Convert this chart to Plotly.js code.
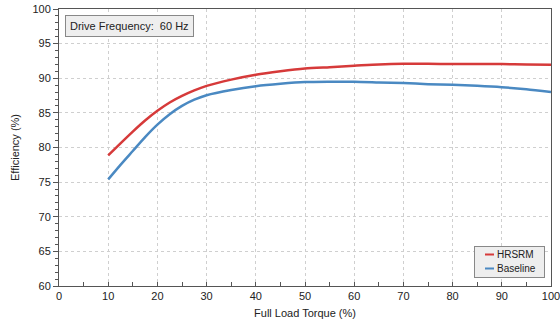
<!DOCTYPE html>
<html>
<head>
<meta charset="utf-8">
<script src="https://cdn.plot.ly/plotly-3.0.1.min.js"></script>
<style>html,body{margin:0;padding:0;background:#fff;}#chart{width:560px;height:326px;}</style>
</head>
<body>
<div id="chart"></div>
<script>
const torque   = [10, 12.5, 15, 17.5, 20, 22.5, 25, 27.5, 30, 35, 40, 45, 50, 55, 60, 65, 70, 75, 80, 85, 90, 95, 100];
const hrsrm    = [78.85, 80.6, 82.3, 83.9, 85.3, 86.5, 87.45, 88.25, 88.9, 89.8, 90.5, 91.0, 91.4, 91.6, 91.8, 92.0, 92.1, 92.1, 92.05, 92.05, 92.05, 92.0, 91.95];
const baseline = [75.4, 77.5, 79.5, 81.5, 83.3, 84.8, 86.0, 86.9, 87.55, 88.3, 88.85, 89.2, 89.45, 89.5, 89.5, 89.4, 89.3, 89.15, 89.05, 88.9, 88.7, 88.4, 88.0];
const seriesNames = ["HRSRM", "Baseline"];
const xTitle = "Full Load Torque (%)";
const yTitle = "Efficiency (%)";
const note = "Drive Frequency:  60 Hz";

const font = "Liberation Sans, Arial, Helvetica, sans-serif";
const traces = [
  {x: torque, y: hrsrm, name: seriesNames[0], mode: "lines",
   line: {color: "#d63a3a", width: 2.5, shape: "spline", smoothing: 0.7}},
  {x: torque, y: baseline, name: seriesNames[1], mode: "lines",
   line: {color: "#4a89c2", width: 2.5, shape: "spline", smoothing: 0.7}}
];
const axisCommon = {
  showline: true, linecolor: "#555", linewidth: 1, mirror: true,
  showgrid: true, gridcolor: "#cfcfcf", griddash: "dot", gridwidth: 1,
  zeroline: false, tickfont: {family: font, size: 11, color: "#222"},
  tickcolor: "#555", ticklen: 5, ticklabeloverflow: "allow"
};
const layout = {
  width: 560, height: 326,
  margin: {l: 59, r: 9, t: 9, b: 40},
  paper_bgcolor: "#fff", plot_bgcolor: "#fff",
  font: {family: font, size: 11, color: "#222"},
  showlegend: true,
  legend: {x: 0.99, y: 0.03, xanchor: "right", yanchor: "bottom",
    bgcolor: "#eeeeee", bordercolor: "#888", borderwidth: 1,
    font: {family: font, size: 10, color: "#222"},
    tracegroupgap: 0, itemwidth: 30},
  xaxis: Object.assign({}, axisCommon, {
    range: [0, 100], dtick: 10, ticks: "inside", ticklen: 4,
    minor: {dtick: 5, ticks: "inside", ticklen: 4, tickcolor: "#555", showgrid: false},
    title: {text: xTitle, font: {family: font, size: 11, color: "#222"}, standoff: 8}
  }),
  yaxis: Object.assign({}, axisCommon, {
    range: [60, 100], dtick: 5, ticks: "outside", ticklen: 5,
    minor: {dtick: 1, ticks: "outside", ticklen: 3, tickcolor: "#555", showgrid: false},
    title: {text: yTitle, font: {family: font, size: 11, color: "#222"}, standoff: 10}
  }),
  annotations: [{
    xref: "paper", yref: "paper", x: 0.012, y: 0.98, xanchor: "left", yanchor: "top",
    text: note, showarrow: false, font: {family: font, size: 11, color: "#222"},
    bgcolor: "#eeeeee", bordercolor: "#888", borderwidth: 1, borderpad: 4
  }]
};
Plotly.newPlot("chart", traces, layout, {staticPlot: true, displayModeBar: false}).then(function () {
  // compact legend styling (short sample lines, tight spacing)
  const leg = document.querySelector("#chart .legend");
  if (!leg) return;
  const items = leg.querySelectorAll("g.traces");
  const lineStart = 11, lineLen = 9, textX = 23, rowGap = 14, firstY = 8.5;
  let maxW = 0;
  items.forEach(function (g, i) {
    g.setAttribute("transform", "translate(0," + (firstY + i * rowGap) + ")");
    g.querySelectorAll("path.js-line").forEach(function (p) {
      p.setAttribute("d", "M" + lineStart + ",0h" + lineLen);
      p.style.strokeWidth = "2px";
    });
    const t = g.querySelector("text.legendtext");
    if (t) {
      t.setAttribute("x", textX);
      maxW = Math.max(maxW, t.getComputedTextLength());
    }
  });
  const W = Math.round(textX + maxW + 9);
  const H = Math.round(firstY * 2 + rowGap * (items.length - 1));
  const bg = leg.querySelector("rect.bg");
  if (bg) { bg.setAttribute("width", W); bg.setAttribute("height", H); bg.setAttribute("x", 0.5); bg.setAttribute("y", 0.5); }
  const right = 544, bottom = 277;
  leg.setAttribute("transform", "translate(" + (right - W) + "," + (bottom - H) + ")");
});
</script>
</body>
</html>
